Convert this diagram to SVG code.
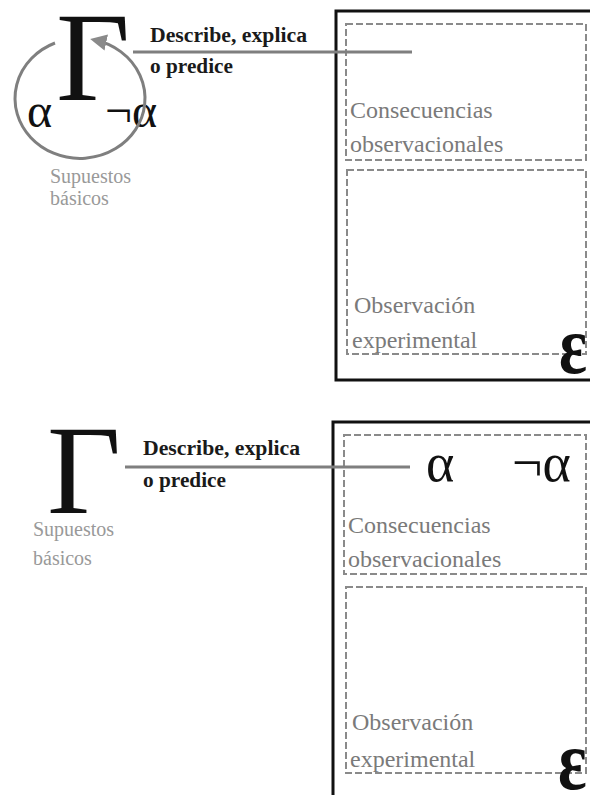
<svg xmlns="http://www.w3.org/2000/svg" width="590" height="795" viewBox="0 0 590 795">
<defs>
<style>
.big{font-family:"Liberation Serif","DejaVu Serif",serif;fill:#111}
.lbl{font-family:"Liberation Serif","DejaVu Serif",serif;font-size:24px;fill:#7a7a7a}
.sup{font-family:"Liberation Serif","DejaVu Serif",serif;font-size:20px;fill:#999}
.desc{font-family:"Liberation Serif","DejaVu Serif",serif;font-size:20px;font-weight:bold;fill:#1a1a1a}
.outer{fill:none;stroke:#111;stroke-width:3}
.dash{fill:none;stroke:#8a8a8a;stroke-width:2;stroke-dasharray:7 3}
.conn{stroke:#7f7f7f;stroke-width:3;fill:none}
</style>
<marker id="ah" viewBox="0 0 10 10" refX="7" refY="5" markerWidth="5.5" markerHeight="5.5" orient="auto" markerUnits="strokeWidth">
<path d="M0,0 L10,5 L0,10 z" fill="#8a8a8a"/>
</marker>
</defs>
<rect width="590" height="795" fill="#fff"/>

<g id="panel-top">
<rect class="outer" x="336" y="11" width="262" height="369"/>
<g id="top-consecuencias">
<rect class="dash" x="346" y="24" width="240" height="136"/>
<text class="lbl" x="350" y="118">Consecuencias</text>
<text class="lbl" x="350" y="152">observacionales</text>
</g>
<g id="top-observacion">
<rect class="dash" x="347" y="170" width="239" height="184"/>
<text class="lbl" x="354" y="313">Observación</text>
<text class="lbl" x="352" y="348">experimental</text>
</g>
<text id="top-epsilon" class="big" transform="translate(559,373) scale(0.8,1)" font-size="82" font-weight="bold">ε</text>
</g>

<g id="gamma-top">
<text class="big" x="56" y="100" font-size="128">Γ</text>
<text class="big" x="27" y="127" font-size="48">α</text>
<text class="big" x="105" y="127" font-size="48">¬α</text>
<text class="sup" x="50" y="183">Supuestos</text>
<text class="sup" x="50" y="205">básicos</text>
</g>

<g id="panel-bottom">
<rect class="outer" x="333" y="422" width="265" height="400"/>
<g id="bottom-consecuencias">
<rect class="dash" x="344" y="435" width="242" height="139"/>
<text class="big" x="426" y="481" font-size="54">α</text>
<text class="big" x="512" y="481" font-size="54">¬α</text>
<text class="lbl" x="348" y="533">Consecuencias</text>
<text class="lbl" x="348" y="567">observacionales</text>
</g>
<g id="bottom-observacion">
<rect class="dash" x="346" y="587" width="240" height="186"/>
<text class="lbl" x="352" y="730">Observación</text>
<text class="lbl" x="350" y="767">experimental</text>
</g>
<text id="bottom-epsilon" class="big" transform="translate(558,789) scale(0.8,1)" font-size="84" font-weight="bold">ε</text>
</g>

<g id="gamma-bottom">
<text class="big" x="47" y="513" font-size="128">Γ</text>
<text class="sup" x="33" y="536">Supuestos</text>
<text class="sup" x="33" y="565">básicos</text>
</g>

<g id="connectors">
<path class="conn" d="M55,43 A65,60 0 1 0 95,40" marker-end="url(#ah)"/>
<line class="conn" x1="133" y1="52" x2="412" y2="52"/>
<line class="conn" x1="125" y1="467" x2="410" y2="467"/>
</g>

<g id="labels">
<text class="desc" x="150" y="42" textLength="157" lengthAdjust="spacingAndGlyphs">Describe, explica</text>
<text class="desc" x="150" y="73" textLength="83" lengthAdjust="spacingAndGlyphs">o predice</text>
<text class="desc" x="143" y="455" textLength="157" lengthAdjust="spacingAndGlyphs">Describe, explica</text>
<text class="desc" x="143" y="487" textLength="83" lengthAdjust="spacingAndGlyphs">o predice</text>
</g>
</svg>
